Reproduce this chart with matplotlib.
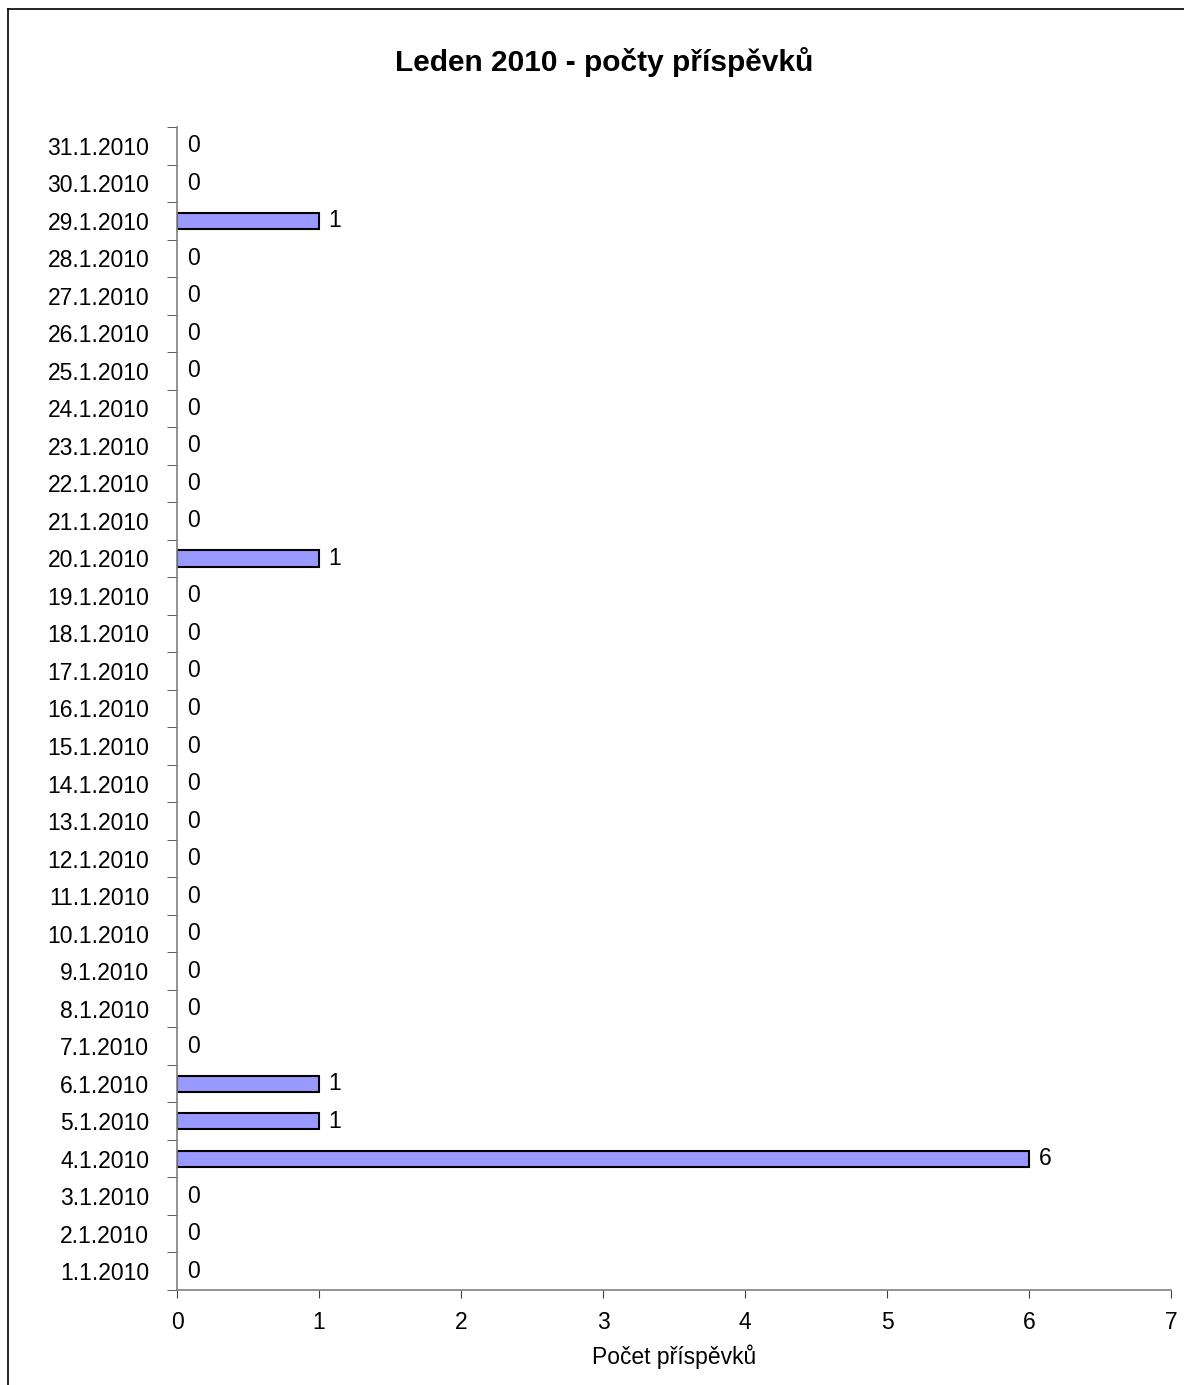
import matplotlib.pyplot as plt
from matplotlib.lines import Line2D
from matplotlib.ticker import FixedLocator

plt.rcParams['font.family'] = ['Liberation Sans', 'DejaVu Sans']

# data
days = ["%d.1.2010" % d for d in range(1, 32)]
counts = [0, 0, 0, 6, 1, 1, 0, 0, 0, 0,
          0, 0, 0, 0, 0, 0, 0, 0, 0, 1,
          0, 0, 0, 0, 0, 0, 0, 0, 1, 0, 0]
x_ticks = [0, 1, 2, 3, 4, 5, 6, 7]

fig = plt.figure(figsize=(11.84, 13.85), dpi=100)
ax = fig.add_axes([0.1495, 0.0686, 0.8395, 0.8397])

pos = list(range(len(days)))
lw = [1.5 if c > 0 else 0 for c in counts]
ax.barh(pos, counts, height=0.43, color='#9999FF', edgecolor='black', linewidth=lw)

for p, c in zip(pos, counts):
    ax.annotate(str(c), xy=(c, p), xytext=(7, 0), textcoords='offset points',
                va='center', ha='left', fontsize=16.5)

ax.set_xlim(0, 7)
ax.set_ylim(-0.5, len(days) - 0.5)
ax.set_xticks(x_ticks)
ax.set_yticks(pos)
ax.set_yticklabels(days, fontsize=16.5)
ax.yaxis.set_minor_locator(FixedLocator([p - 0.5 for p in pos] + [len(days) - 0.5]))
ax.tick_params(axis='y', which='major', length=0, pad=20)
ax.tick_params(axis='y', which='minor', length=7, color='#404040')
ax.tick_params(axis='x', length=6, labelsize=16.5, pad=9, color='#404040')

for s in ['top', 'right']:
    ax.spines[s].set_visible(False)
for s in ['left', 'bottom']:
    ax.spines[s].set_color('#808080')
    ax.spines[s].set_linewidth(1.2)

ax.set_xlabel('Počet příspěvků', fontsize=16.5, labelpad=8)
fig.text(0.51, 0.955, 'Leden 2010 - počty příspěvků', ha='center', va='center',
         fontsize=21.5, fontweight='bold')

# chart frame (only left and top visible)
fig.add_artist(Line2D([8 / 1184, 8 / 1184], [0, 1 - 9 / 1385], color='black', linewidth=1.2))
fig.add_artist(Line2D([8 / 1184, 1], [1 - 9 / 1385, 1 - 9 / 1385], color='black', linewidth=1.2))

fig.savefig('out.png', dpi=100)
